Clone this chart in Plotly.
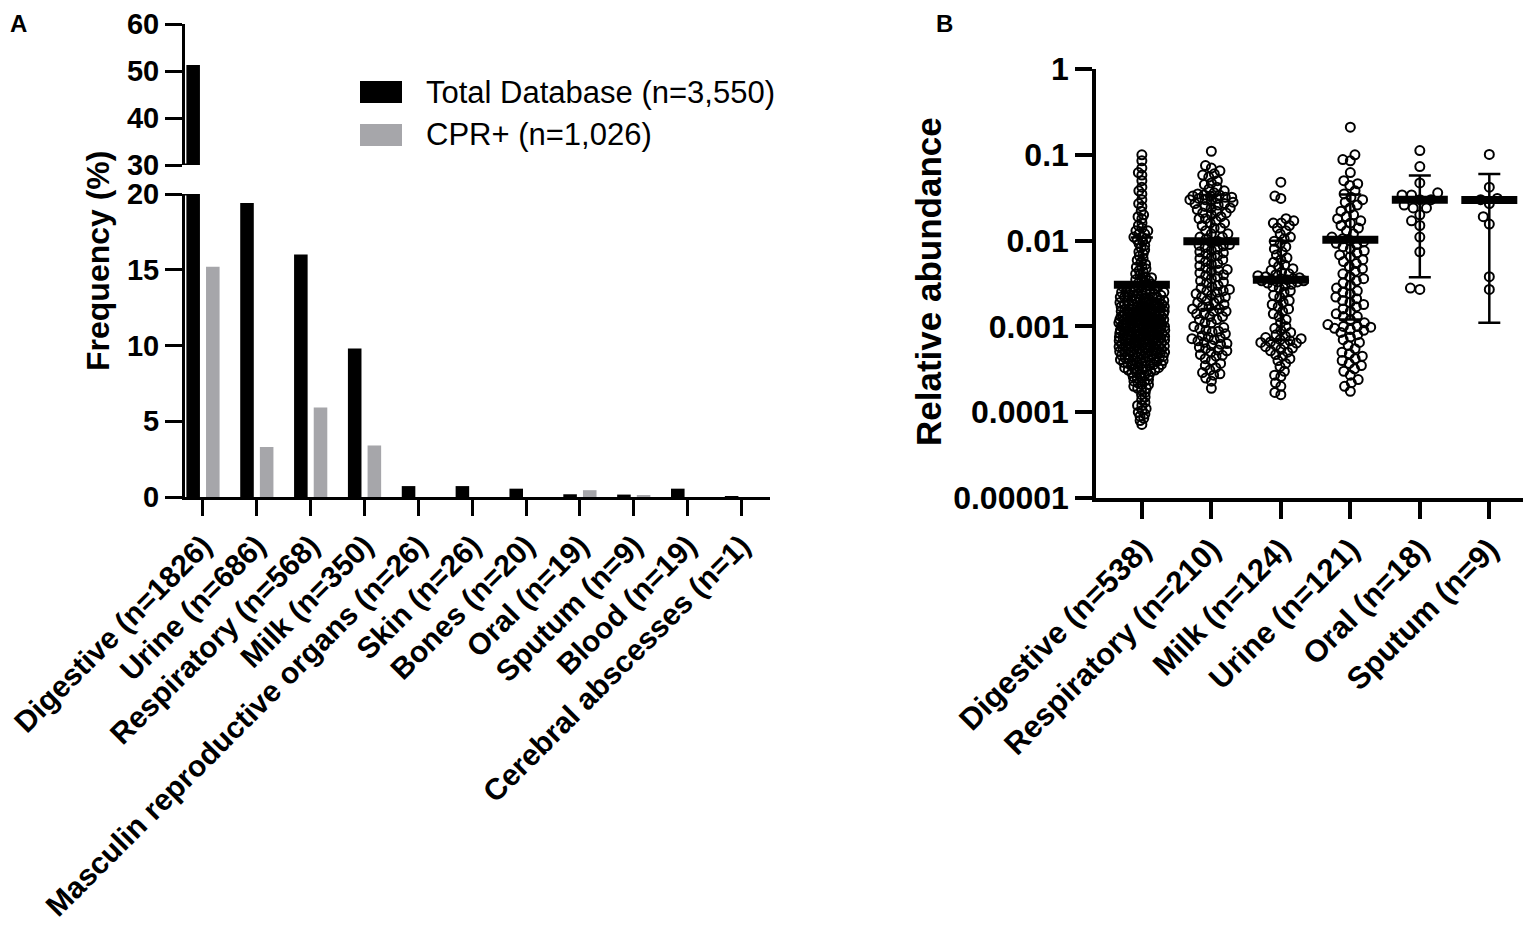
import math
import plotly.graph_objects as go

# the page body keeps its default 8px margin, so the figure is drawn 8px in
W, H = 1531, 943
OFF = 8
FW, FH = W - OFF, H - 2 * OFF
FONT = "Liberation Sans, Arial, sans-serif"
GRAY = "#a6a6aa"

# ---- panel A data (frequency %) ----
sites_a = [
    "Digestive (n=1826)", "Urine (n=686)", "Respiratory (n=568)", "Milk (n=350)",
    "Masculin reproductive organs (n=26)", "Skin (n=26)", "Bones (n=20)",
    "Oral (n=19)", "Sputum (n=9)", "Blood (n=19)", "Cerebral abscesses (n=1)",
]
total_db = [51.3, 19.4, 16.0, 9.8, 0.72, 0.72, 0.55, 0.18, 0.16, 0.55, 0.03]
cpr_plus = [15.2, 3.3, 5.9, 3.4, 0.0, 0.0, 0.0, 0.45, 0.12, 0.0, 0.0]
lower_ticks = [0, 5, 10, 15, 20]
upper_ticks = [30, 40, 50, 60]

# ---- panel B data (relative abundance) ----
sites_b = ["Digestive (n=538)", "Respiratory (n=210)", "Milk (n=124)",
           "Urine (n=121)", "Oral (n=18)", "Sputum (n=9)"]

digestive = [
    0.1, 0.085, 0.07, 0.062, 0.058, 0.05, 0.042, 0.038, 0.035, 0.03, 0.027,
    0.025, 0.022, 0.02, 0.019, 0.018, 0.016, 0.015, 0.014, 0.013, 0.013,
    0.012, 0.012, 0.011, 0.011, 0.0105, 0.0102,
    0.0098, 0.0092, 0.0088, 0.0083, 0.0078, 0.0074, 0.007, 0.0066, 0.0062,
    0.0059, 0.0056, 0.0053, 0.005,
    0.0049, 0.0047, 0.0045, 0.0043, 0.0041, 0.004, 0.0038, 0.0037, 0.0036,
    0.0035, 0.0034, 0.0033, 0.0032, 0.0031, 0.003, 0.003,
    0.0029, 0.0029, 0.0028,
    0.0028, 0.0027, 0.0027, 0.0026, 0.0026, 0.0025, 0.0025, 0.0024, 0.0024,
    0.0023, 0.0023, 0.0023, 0.0022, 0.0022, 0.0021, 0.0021, 0.0021, 0.002,
    0.002,
    0.0019, 0.0019, 0.0019, 0.0018, 0.0018, 0.0018, 0.0018, 0.0017, 0.0017,
    0.0017, 0.0017, 0.0016, 0.0016, 0.0016, 0.0016, 0.0015, 0.0015, 0.0015,
    0.0015, 0.0015, 0.0014, 0.0014, 0.0014, 0.0014, 0.0014, 0.0013, 0.0013,
    0.0013, 0.0013, 0.0013, 0.0013, 0.0012, 0.0012, 0.0012, 0.0012, 0.0012,
    0.0012, 0.0011, 0.0011, 0.0011, 0.0011, 0.0011, 0.0011, 0.00105, 0.00105,
    0.00105, 0.00102, 0.00102, 0.001, 0.001, 0.001, 0.001,
    0.00098, 0.00096, 0.00095, 0.00094, 0.00092, 0.0009, 0.0009, 0.00088,
    0.00087, 0.00086, 0.00085, 0.00084, 0.00082, 0.0008, 0.0008, 0.00079,
    0.00078, 0.00076, 0.00075, 0.00074, 0.00072, 0.0007, 0.0007, 0.00069,
    0.00068, 0.00066, 0.00065, 0.00064, 0.00063, 0.00062, 0.0006, 0.0006,
    0.00059, 0.00058, 0.00057, 0.00056, 0.00055, 0.00054, 0.00053, 0.00052,
    0.00051, 0.0005, 0.0005, 0.00049, 0.00048, 0.00047, 0.00046, 0.00045,
    0.00044, 0.00043, 0.00042, 0.00041, 0.0004, 0.0004, 0.00039, 0.00038,
    0.00037, 0.00036, 0.00035, 0.00034, 0.00033, 0.00032, 0.00031, 0.0003,
    0.0003,
    0.00029, 0.00028, 0.00027, 0.00026, 0.00025, 0.00024, 0.00023, 0.00022,
    0.00021, 0.0002, 0.00019, 0.00018, 0.00017, 0.00016, 0.00015, 0.00014,
    0.00013, 0.00012, 0.00012, 0.00011, 0.000105, 0.0001,
    0.000095, 0.00009, 0.000085, 0.00008, 0.000072,
    # dense core, second pass
    0.0029, 0.0027, 0.0025, 0.0024, 0.0023, 0.0022, 0.0021, 0.002, 0.0019,
    0.0019, 0.0018, 0.0018, 0.0017, 0.0017, 0.0016, 0.0016, 0.0015, 0.0015,
    0.0015, 0.0014, 0.0014, 0.0014, 0.0013, 0.0013, 0.0013, 0.0012, 0.0012,
    0.0012, 0.0011, 0.0011, 0.0011, 0.001, 0.001, 0.00097, 0.00094, 0.00091,
    0.00089, 0.00086, 0.00083, 0.00081, 0.00078, 0.00076, 0.00073, 0.00071,
    0.00069, 0.00067, 0.00065, 0.00063, 0.00061, 0.00059, 0.00057, 0.00055,
    0.00053, 0.00051, 0.00049, 0.00047, 0.00045, 0.00043, 0.00041, 0.00039,
    0.00037, 0.00035, 0.00033, 0.00031, 0.00029, 0.00027, 0.00025, 0.00023,
    0.00021, 0.00019,
    0.0026, 0.0024, 0.0022, 0.002, 0.0019, 0.0018, 0.0017, 0.0016, 0.0015,
    0.0014, 0.0014, 0.0013, 0.0013, 0.0012, 0.0012, 0.0011, 0.0011, 0.00105,
    0.001, 0.00096, 0.00092, 0.00089, 0.00085, 0.00082, 0.00079, 0.00077,
    0.00074, 0.00072, 0.0007, 0.00068, 0.00066, 0.00064, 0.00062, 0.0006,
    0.00058, 0.00056, 0.00054, 0.00052, 0.0005, 0.00048, 0.00046, 0.00044,
    0.00042, 0.0004, 0.00038, 0.00036, 0.00034, 0.00032,
]
respiratory = [
    0.11, 0.075, 0.07, 0.065, 0.06, 0.058, 0.055, 0.05, 0.047, 0.045, 0.042,
    0.04, 0.038, 0.036, 0.035, 0.034, 0.034, 0.033, 0.033, 0.032, 0.032,
    0.031, 0.03, 0.03, 0.029, 0.028, 0.027, 0.026, 0.025, 0.024, 0.023,
    0.022, 0.021, 0.02, 0.019, 0.018, 0.017, 0.016, 0.016, 0.015, 0.014,
    0.014, 0.013, 0.012, 0.012, 0.011, 0.011, 0.0105,
    0.0098, 0.0095, 0.009, 0.0087, 0.0083, 0.008, 0.0077, 0.0074, 0.007,
    0.0067, 0.0064, 0.006, 0.0057, 0.0054, 0.0051, 0.0048, 0.0046, 0.0044,
    0.0042, 0.004, 0.0038, 0.0036, 0.0034, 0.0032, 0.003,
    0.0029, 0.0028, 0.0027, 0.0026, 0.0025, 0.0024, 0.0023, 0.0022, 0.0021,
    0.002, 0.0019, 0.0018, 0.0017, 0.0016, 0.0016, 0.0015, 0.0015, 0.0014,
    0.0014, 0.0013, 0.0012, 0.0012, 0.0011, 0.0011, 0.001,
    0.00097, 0.00094, 0.0009, 0.00086, 0.00082, 0.00078, 0.00075, 0.00072,
    0.0007, 0.00068, 0.00065, 0.00062, 0.0006, 0.00057, 0.00055, 0.00052,
    0.0005, 0.00047, 0.00045, 0.00042, 0.0004, 0.00037, 0.00035, 0.00033,
    0.00031, 0.00029, 0.00028, 0.00027, 0.00025, 0.00023, 0.00019,
    0.031, 0.027, 0.024, 0.021, 0.018, 0.0088, 0.0072, 0.0062, 0.0053,
    0.0045, 0.0039, 0.0033, 0.0026, 0.0022, 0.0019, 0.0017, 0.0013,
    0.00088, 0.00074, 0.00063, 0.00053, 0.00046,
]
milk = [
    0.048, 0.033, 0.031, 0.018, 0.017, 0.016, 0.016, 0.015, 0.014, 0.013,
    0.012, 0.011, 0.0105, 0.0098, 0.0092, 0.0085, 0.008, 0.0074, 0.0068,
    0.0063, 0.006, 0.0056, 0.0052, 0.005, 0.0047, 0.0045, 0.0043, 0.0041,
    0.004, 0.0039, 0.0038, 0.0037, 0.0036, 0.0036, 0.0035, 0.0035, 0.0034,
    0.0034, 0.0033, 0.0033, 0.0032, 0.0031, 0.003, 0.0029, 0.0028, 0.0026,
    0.0025, 0.0023, 0.0022, 0.002, 0.0019, 0.0018, 0.0017, 0.0016, 0.0015,
    0.0014, 0.0013, 0.0012, 0.0011, 0.001, 0.00095, 0.0009, 0.00085, 0.0008,
    0.00077, 0.00074, 0.00072, 0.0007, 0.00068, 0.00066, 0.00065, 0.00064,
    0.00062, 0.0006, 0.00058, 0.00056, 0.00054, 0.00052, 0.0005, 0.00047,
    0.00045, 0.00042, 0.0004, 0.00037, 0.00034, 0.0003, 0.00027, 0.00026,
    0.00022, 0.0002, 0.00017, 0.00016,
]
urine = [
    0.21, 0.1, 0.088, 0.085, 0.062, 0.05, 0.046, 0.044, 0.038, 0.035, 0.032,
    0.03, 0.028, 0.026, 0.024, 0.022, 0.02, 0.019, 0.018, 0.017, 0.016,
    0.015, 0.014, 0.013, 0.012, 0.011, 0.0105, 0.01, 0.0097, 0.0093, 0.009,
    0.0085, 0.008, 0.0076, 0.0072, 0.0068, 0.0065, 0.006, 0.0057, 0.0054,
    0.005, 0.0047, 0.0044, 0.0041, 0.0038, 0.0036, 0.0034, 0.0032, 0.003,
    0.0028, 0.0026, 0.0025, 0.0024, 0.0022, 0.0021, 0.002, 0.0019, 0.0018,
    0.0017, 0.0016, 0.0015, 0.0014, 0.0013, 0.0013, 0.0012, 0.0011, 0.00105,
    0.001, 0.001, 0.00098, 0.00095, 0.00092, 0.0009, 0.00085, 0.0008,
    0.00075, 0.0007, 0.00065, 0.0006, 0.00055, 0.0005, 0.00048, 0.00045,
    0.00042, 0.0004, 0.00037, 0.00035, 0.00032, 0.0003, 0.00027, 0.00024,
    0.00022, 0.0002, 0.000175,
]
oral = [0.112, 0.073, 0.047, 0.036, 0.034, 0.034, 0.030, 0.030, 0.026,
        0.024, 0.024, 0.020, 0.017, 0.015, 0.011, 0.0074, 0.0028, 0.0027]
sputum = [0.101, 0.042, 0.031, 0.030, 0.027, 0.019, 0.0156, 0.0038, 0.0027]

medians = [0.00305, 0.0098, 0.0035, 0.0102, 0.030, 0.0297]
err_hi = [0.0109, 0.034, 0.00995, 0.0345, 0.0573, 0.0598]
err_lo = [0.0008, 0.0016, 0.0007, 0.0012, 0.00374, 0.0011]
log_ticks = [1, 0.1, 0.01, 0.001, 0.0001, 0.00001]
log_labels = ["1", "0.1", "0.01", "0.001", "0.0001", "0.00001"]

# panel B pixel geometry (page pixels), also used for the swarm layout
B_LEFT, B_TOP, B_BOTTOM = 1096, 69, 498
B_XRANGE = [-0.66, 5.6]
PX_PER_DECADE = (B_BOTTOM - B_TOP) / 5
PX_PER_CAT = (OFF + FW - B_LEFT) / (B_XRANGE[1] - B_XRANGE[0])


def px(x):
    return (x - OFF) / FW


def py(y):
    return 1 - (y - OFF) / FH


def swarm(vals, spacing, max_half=23):
    """Beeswarm offsets (in category units) so circles sit side by side."""
    order = sorted(range(len(vals)), key=lambda i: vals[i])
    placed = []
    offs = [0.0] * len(vals)
    for i in order:
        y = math.log10(vals[i]) * PX_PER_DECADE
        near = [(a, b) for a, b in placed if abs(b - y) < spacing]
        cands = [0.0]
        for a, b in near:
            dx = math.sqrt(spacing ** 2 - (b - y) ** 2)
            cands += [a + dx, a - dx]
        cands.sort(key=lambda c: (round(abs(c), 3), c))
        best, best_gap = 0.0, -1.0
        for c in cands:
            if abs(c) > max_half:
                continue
            gap = min([math.hypot(c - a, y - b) for a, b in near] or [spacing])
            if gap >= spacing - 1e-6:
                best = c
                break
            if gap > best_gap:
                best, best_gap = c, gap
        placed.append((best, y))
        offs[i] = best / PX_PER_CAT
    return offs


fig = go.Figure()

# panel A: same bars on the lower and upper (broken) y axes
for yax in ["y", "y2"]:
    fig.add_trace(go.Bar(x=sites_a, y=total_db, marker_color="black",
                         marker_line_width=0, xaxis="x", yaxis=yax,
                         name="Total Database (n=3,550)", showlegend=False))
    fig.add_trace(go.Bar(x=sites_a, y=cpr_plus, marker_color=GRAY,
                         marker_line_width=0, xaxis="x", yaxis=yax,
                         name="CPR+ (n=1,026)", showlegend=False))

# panel B: every sample, then median with error bars
groups = [digestive, respiratory, milk, urine, oral, sputum]
spacings = [4.3, 6.4, 6.4, 7.6, 9.5, 9.5]
for k, (name, vals, sp) in enumerate(zip(sites_b, groups, spacings)):
    offs = swarm(vals, sp)
    fig.add_trace(go.Scatter(
        x=[k + o for o in offs], y=vals, xaxis="x2", yaxis="y3",
        mode="markers", name=name, showlegend=False,
        marker=dict(symbol="circle-open", size=9, color="black",
                    line=dict(width=2, color="black")),
    ))

fig.add_trace(go.Scatter(
    x=list(range(len(sites_b))), y=medians, xaxis="x2", yaxis="y3",
    mode="markers", showlegend=False,
    marker=dict(symbol="line-ew", size=40, color="black",
                line=dict(width=8, color="black")),
    error_y=dict(type="data", symmetric=False,
                 array=[h - m for h, m in zip(err_hi, medians)],
                 arrayminus=[m - l for m, l in zip(medians, err_lo)],
                 color="black", thickness=2.5, width=11),
))

tickfont = dict(family=FONT, size=29, color="black", weight="bold")
labfont = dict(family=FONT, size=31, color="black", weight="bold")
axis_common = dict(showgrid=False, zeroline=False, showline=True,
                   linecolor="black", ticks="outside", tickcolor="black",
                   fixedrange=True, automargin=False)

fig.update_layout(
    width=FW, height=FH, autosize=False,
    margin=dict(l=0, r=0, t=0, b=0, pad=0),
    paper_bgcolor="white", plot_bgcolor="white",
    barmode="group", bargap=0.27, bargroupgap=0.31,
    showlegend=False,
    xaxis=dict(**axis_common, domain=[px(185), px(770)], anchor="y",
               range=[-0.334, 10.53], linewidth=3, tickwidth=3, ticklen=16,
               tickangle=-45, tickfont=dict(labfont, size=30)),
    yaxis=dict(**axis_common, domain=[py(497), py(194)], anchor="x",
               range=[0, 20], tickvals=lower_ticks, linewidth=3,
               tickwidth=3, ticklen=17, tickfont=tickfont),
    yaxis2=dict(**axis_common, domain=[py(165), py(24)], anchor="x",
                range=[30, 60], tickvals=upper_ticks, linewidth=3,
                tickwidth=3, ticklen=17, tickfont=tickfont),
    xaxis2=dict(**axis_common, domain=[px(B_LEFT), 1.0], anchor="y3",
                range=B_XRANGE, tickvals=list(range(len(sites_b))),
                ticktext=sites_b, linewidth=3.5, tickwidth=3.5,
                ticklen=17, tickangle=-45, tickfont=labfont),
    yaxis3=dict(**axis_common, domain=[py(B_BOTTOM), py(B_TOP)],
                anchor="x2", type="log", range=[-5, 0], tickvals=log_ticks,
                ticktext=log_labels, linewidth=3.5, tickwidth=3.5,
                ticklen=17, tickfont=dict(tickfont, size=32),
                ticklabelstandoff=0),
)

shapes = [
    # break marks on the split axis
    dict(type="line", xref="paper", yref="y2", x0=px(184), x1=px(194),
         y0=30, y1=30, line=dict(color="black", width=3)),
    dict(type="line", xref="paper", yref="y", x0=px(184), x1=px(194),
         y0=20, y1=20, line=dict(color="black", width=3)),
    # legend swatches
    dict(type="rect", xref="paper", yref="paper", x0=px(360), x1=px(402),
         y0=py(103), y1=py(81), fillcolor="black", line_width=0),
    dict(type="rect", xref="paper", yref="paper", x0=px(360), x1=px(402),
         y0=py(146), y1=py(124), fillcolor=GRAY, line_width=0),
]
fig.update_layout(shapes=shapes)

legfont = dict(family=FONT, size=31, color="black")
annotations = [
    dict(text="Total Database (n=3,550)", x=px(424), y=py(92),
         xanchor="left", yanchor="middle", font=legfont),
    dict(text="CPR+ (n=1,026)", x=px(424), y=py(135),
         xanchor="left", yanchor="middle", font=legfont),
    dict(text="Frequency (%)", x=px(98), y=py(261), textangle=-90,
         xanchor="center", yanchor="middle",
         font=dict(family=FONT, size=32, color="black", weight="bold")),
    dict(text="Relative abundance", x=px(929), y=py(282), textangle=-90,
         xanchor="center", yanchor="middle",
         font=dict(family=FONT, size=35, color="black", weight="bold")),
    dict(text="A", x=0, y=1, xanchor="left", yanchor="top",
         font=dict(family=FONT, size=24, color="black", weight="bold")),
    dict(text="B", x=px(934), y=1, xanchor="left", yanchor="top",
         font=dict(family=FONT, size=24, color="black", weight="bold")),
]
for a in annotations:
    a.update(xref="paper", yref="paper", showarrow=False)
fig.update_layout(annotations=annotations)

fig.write_html("out.html")
